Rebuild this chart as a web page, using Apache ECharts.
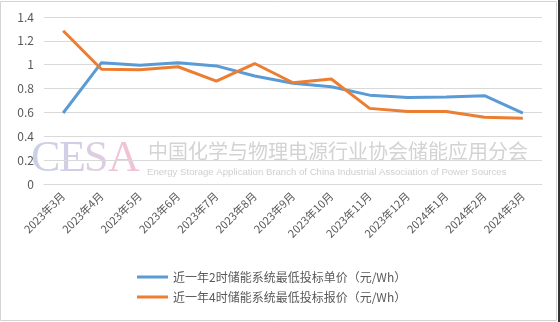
<!DOCTYPE html>
<html><head><meta charset="utf-8">
<script src="https://cdn.jsdelivr.net/npm/echarts@6/dist/echarts.min.js"></script>
<style>html,body{margin:0;padding:0;background:#fff}#c{width:560px;height:322px}</style>
</head><body><div id="c"></div>
<script>
const categories = ['2023年3月','2023年4月','2023年5月','2023年6月','2023年7月','2023年8月','2023年9月','2023年10月','2023年11月','2023年12月','2024年1月','2024年2月','2024年3月'];
const series2h = [0.595, 1.017, 0.995, 1.017, 0.99, 0.905, 0.845, 0.815, 0.745, 0.725, 0.73, 0.74, 0.595];
const series4h = [1.285, 0.962, 0.958, 0.983, 0.863, 1.01, 0.849, 0.88, 0.634, 0.608, 0.607, 0.56, 0.552];
const name2h = '近一年2时储能系统最低投标单价（元/Wh）';
const name4h = '近一年4时储能系统最低投标报价（元/Wh）';
const watermarkLetters = ['C', 'E', 'S', 'A'];
const watermarkColors = ['rgba(185,192,222,0.75)', 'rgba(195,190,222,0.75)', 'rgba(210,188,218,0.75)', 'rgba(236,180,205,0.8)'];
const watermarkCn = '中国化学与物理电源行业协会储能应用分会';
const watermarkEn = 'Energy Storage Application Branch of China Industrial Association of Power Sources';

const letterX = [31, 59, 84, 108];
const graphics = [
  { type: 'rect', z: -10, shape: { x: 0.5, y: 1.5, width: 556, height: 319 }, style: { fill: 'none', stroke: '#d4d4d4', lineWidth: 1 } },
  { type: 'rect', z: -10, shape: { x: 558, y: 0, width: 2, height: 322 }, style: { fill: '#333' } },
  { type: 'text', z: -5, left: 148, top: 141, style: { text: watermarkCn, font: '20px "Noto Sans CJK SC"', fill: 'rgba(175,175,175,0.55)' } },
  { type: 'text', z: -5, left: 147, top: 167, style: { text: watermarkEn, font: '9.6px "Liberation Sans", sans-serif', fill: 'rgba(175,175,175,0.6)' } }
];
watermarkLetters.forEach((ch, i) => {
  graphics.push({ type: 'text', z: -5, left: letterX[i], top: 137, style: { text: ch, font: '44px "Liberation Serif", serif', fill: watermarkColors[i] } });
});

const chart = echarts.init(document.getElementById('c'));
chart.setOption({
  animation: false,
  textStyle: { fontFamily: 'Noto Sans CJK SC, Liberation Sans, sans-serif' },
  graphic: graphics,
  grid: { left: 44, right: 18, top: 17, bottom: 138 },
  legend: {
    orient: 'vertical', left: 132, top: 266, itemGap: 8, itemWidth: 31, itemHeight: 3,
    icon: 'rect',
    textStyle: { fontSize: 12, color: '#595959' },
    data: [name2h, name4h]
  },
  xAxis: {
    type: 'category', data: categories, boundaryGap: true,
    axisLine: { lineStyle: { color: '#d9d9d9' } },
    axisTick: { show: false },
    axisLabel: { rotate: 45, fontSize: 11, color: '#595959', margin: 10, interval: 0 }
  },
  yAxis: {
    type: 'value', min: 0, max: 1.4, interval: 0.2,
    axisLine: { show: false }, axisTick: { show: false },
    axisLabel: { fontSize: 12, color: '#595959', margin: 10 },
    splitLine: { lineStyle: { color: '#d9d9d9' } }
  },
  series: [
    { name: name2h, type: 'line', data: series2h, symbol: 'none', lineStyle: { width: 3, color: '#5B9BD5' }, itemStyle: { color: '#5B9BD5' } },
    { name: name4h, type: 'line', data: series4h, symbol: 'none', lineStyle: { width: 3, color: '#ED7D31' }, itemStyle: { color: '#ED7D31' } }
  ]
});
</script></body></html>
